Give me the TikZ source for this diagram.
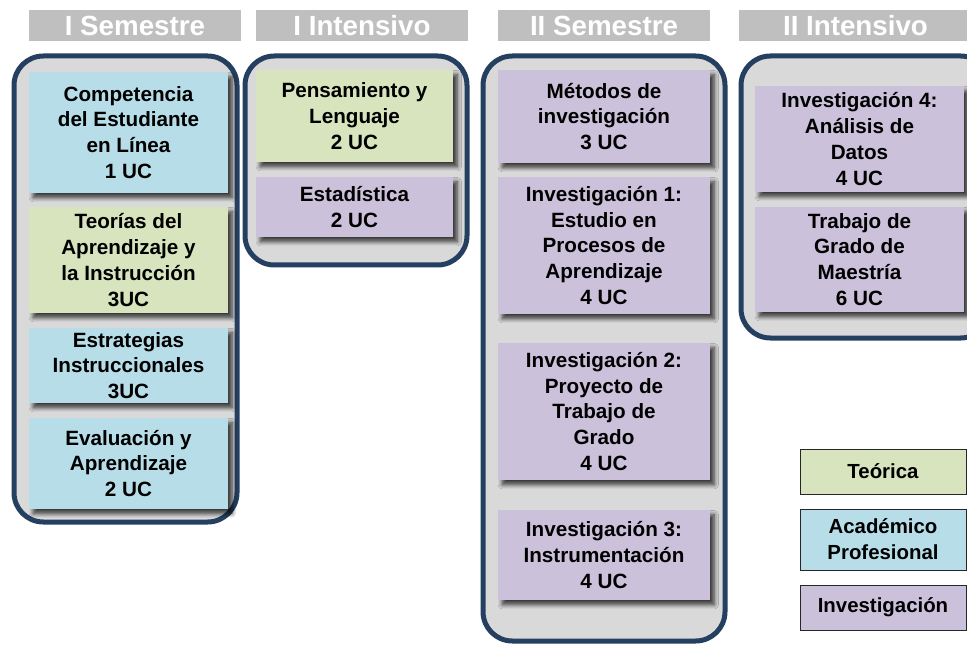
\documentclass[tikz,border=0pt]{standalone}
\usepackage{fontspec}
\setmainfont{Liberation Sans}
\usetikzlibrary{shadows,shadows.blur}
\definecolor{cgreen}{HTML}{D7E4BD}
\definecolor{cblue}{HTML}{B7DEE8}
\definecolor{cpurple}{HTML}{CCC1DA}
\definecolor{cgray}{HTML}{D9D9D9}
\definecolor{cnavy}{HTML}{243F60}
\definecolor{chead}{HTML}{BFBFBF}
\begin{document}
\begin{tikzpicture}[x=0.75pt,y=-0.75pt,
  container/.style={draw=cnavy, line width=3.75pt, fill=cgray, rounded corners=22pt},
  header/.style={fill=chead, inner sep=0pt, minimum height=23.25pt, text=white,
    font=\bfseries\fontsize{20.8}{24}\selectfont},
  course/.style={inner sep=0pt, align=center, font=\bfseries\fontsize{15.5}{19.4}\selectfont,
    blur shadow={shadow xshift=3.2pt, shadow yshift=-3.5pt, shadow blur steps=6, shadow blur radius=3.2pt, shadow opacity=75}},
  legendbox/.style={draw=black!85, line width=0.7pt, inner sep=0pt, align=center,
    minimum width=124.5pt, font=\bfseries\fontsize{15.3}{19.4}\selectfont},
  c1/.style={minimum width=149.25pt},
  c2/.style={minimum width=147.75pt},
  c3/.style={minimum width=159pt},
  c4/.style={minimum width=156.75pt}]
\useasboundingbox (0,0) rectangle (967,645);
\clip (0,0) rectangle (967,645);

% headers
\node[header, minimum width=159pt] (h1) at (135,25.5) {I Semestre};
\node[header, minimum width=159pt] (h2) at (362,25.5) {I Intensivo};
\node[header, minimum width=159pt] (h3) at (604,25.5) {II Semestre};
\node[header, minimum width=174.75pt] (h4) at (855.5,25.5) {II Intensivo};

% containers
\draw[container] (14,56) rectangle (237,522);
\draw[container] (245,56) rectangle (467,265);
\draw[container] (483,56) rectangle (725,641);
\draw[container] (741,56) rectangle (990,338);

% column 1
\node[course, c1, fill=cblue, minimum height=90.75pt] (comp) at (128.5,132.5)
  {Competencia\\del Estudiante\\en Línea\\1 UC};
\node[course, c1, fill=cgreen, minimum height=79.5pt] (teor) at (128.5,260)
  {Teorías del\\Aprendizaje y\\la Instrucción\\3UC};
\node[course, c1, fill=cblue, minimum height=56.25pt] (estr) at (128.5,365.5)
  {Estrategias\\Instruccionales\\3UC};
\node[course, c1, fill=cblue, minimum height=68.25pt] (eval) at (128.5,463.5)
  {Evaluación y\\Aprendizaje\\2 UC};

% column 2
\node[course, c2, fill=cgreen, minimum height=69pt] (pens) at (354.5,116)
  {Pensamiento y\\Lenguaje\\2 UC};
\node[course, c2, fill=cpurple, minimum height=45pt] (esta) at (354.5,207)
  {Estadística\\2 UC};

% column 3
\node[course, c3, fill=cpurple, minimum height=69.75pt] (meto) at (604,116.5)
  {Métodos de\\investigación\\3 UC};
\node[course, c3, fill=cpurple, minimum height=102.75pt] (inv1) at (604,245.5)
  {Investigación 1:\\Estudio en\\Procesos de\\Aprendizaje\\4 UC};
\node[course, c3, fill=cpurple, minimum height=102.75pt] (inv2) at (604,411.5)
  {Investigación 2:\\Proyecto de\\Trabajo de\\Grado\\4 UC};
\node[course, c3, fill=cpurple, minimum height=67.5pt] (inv3) at (604,555)
  {Investigación 3:\\Instrumentación\\4 UC};

% column 4
\node[course, c4, fill=cpurple, minimum height=79.5pt] (inv4) at (859.5,139)
  {Investigación 4:\\Análisis de\\Datos\\4 UC};
\node[course, c4, fill=cpurple, minimum height=78.75pt] (trab) at (859.5,259.5)
  {Trabajo de\\Grado de\\Maestría\\6 UC};

% legend
\node[legendbox, fill=cgreen, minimum height=33.75pt] (lteo) at (883,471.5) {Teórica};
\node[legendbox, fill=cblue, minimum height=45.75pt] (laca) at (883,539.5) {Académico\\Profesional};
\node[legendbox, fill=cpurple, minimum height=33.75pt] (linv) at (883,607.5) {Investigación};
\end{tikzpicture}
\end{document}
